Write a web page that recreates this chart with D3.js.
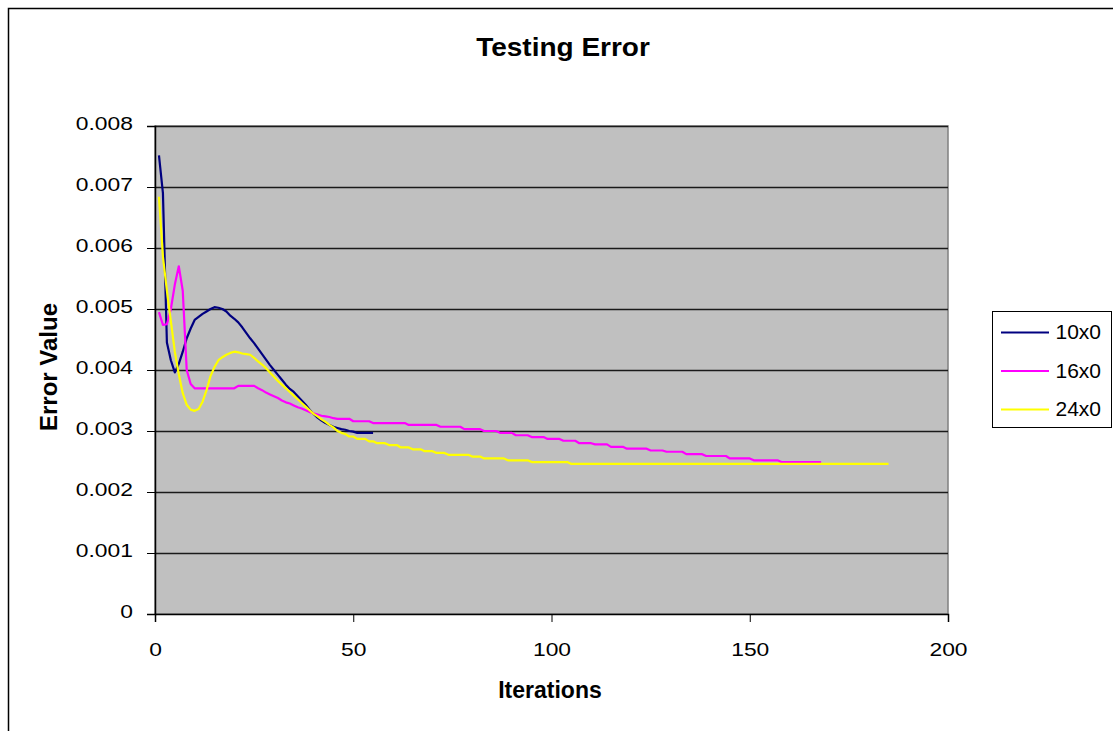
<!DOCTYPE html>
<html>
<head>
<meta charset="utf-8">
<script src="https://cdn.jsdelivr.net/npm/d3@7"></script>
<style>
  html, body { margin: 0; padding: 0; background: #fff; }
  svg { display: block; font-family: "Liberation Sans", Arial, sans-serif; }
</style>
</head>
<body>
<svg id="chart" width="1113" height="731"></svg>
<script>
// Testing error per iteration, one array per network (iteration 1 first)
const seriesNames = ["10x0", "16x0", "24x0"];
const seriesColors = ["#000080", "#FF00FF", "#FFFF00"];

const err10x0 = [
  0.00752, 0.00690, 0.00445, 0.00416, 0.00396, 0.00410, 0.00430, 0.00452, 0.00468, 0.00482,
  0.00487, 0.00492, 0.00496, 0.00500, 0.00503, 0.00502, 0.00500, 0.00496, 0.00489, 0.00484,
  0.00478, 0.00470, 0.00461, 0.00452, 0.00444, 0.00435, 0.00426, 0.00417, 0.00408, 0.00400,
  0.00392, 0.00384, 0.00376, 0.00369, 0.00364, 0.00357, 0.00350, 0.00343, 0.00335, 0.00328,
  0.00322, 0.00317, 0.00313, 0.00310, 0.00307, 0.00305, 0.00303, 0.00302, 0.00300, 0.00299,
  0.00297, 0.00297, 0.00297, 0.00297, 0.00297
];

const err16x0 = [
  0.00495, 0.00474, 0.00475, 0.00500, 0.00540, 0.00570, 0.00530, 0.00400, 0.00377, 0.00370,
  0.00370, 0.00370, 0.00370, 0.00370, 0.00370, 0.00370, 0.00370, 0.00370, 0.00370, 0.00370,
  0.00374, 0.00374, 0.00374, 0.00374, 0.00374, 0.00370, 0.00367, 0.00363, 0.00360, 0.00357,
  0.00354, 0.00350, 0.00347, 0.00345, 0.00342, 0.00339, 0.00337, 0.00334, 0.00331, 0.00329,
  0.00327, 0.00325, 0.00324, 0.00323, 0.00321, 0.00320, 0.00320, 0.00320, 0.00320, 0.00316,
  0.00316, 0.00316, 0.00316, 0.00316, 0.00313, 0.00313, 0.00313, 0.00313, 0.00313, 0.00313,
  0.00313, 0.00313, 0.00313, 0.00310, 0.00310, 0.00310, 0.00310, 0.00310, 0.00310, 0.00310,
  0.00310, 0.00307, 0.00307, 0.00307, 0.00307, 0.00307, 0.00307, 0.00303, 0.00303, 0.00303,
  0.00303, 0.00303, 0.00300, 0.00300, 0.00300, 0.00300, 0.00297, 0.00297, 0.00297, 0.00297,
  0.00293, 0.00293, 0.00293, 0.00293, 0.00290, 0.00290, 0.00290, 0.00290, 0.00287, 0.00287,
  0.00287, 0.00287, 0.00284, 0.00284, 0.00284, 0.00284, 0.00280, 0.00280, 0.00280, 0.00280,
  0.00278, 0.00278, 0.00278, 0.00278, 0.00274, 0.00274, 0.00274, 0.00274, 0.00271, 0.00271,
  0.00271, 0.00271, 0.00271, 0.00271, 0.00268, 0.00268, 0.00268, 0.00268, 0.00266, 0.00266,
  0.00266, 0.00266, 0.00266, 0.00262, 0.00262, 0.00262, 0.00262, 0.00262, 0.00259, 0.00259,
  0.00259, 0.00259, 0.00259, 0.00259, 0.00255, 0.00255, 0.00255, 0.00255, 0.00255, 0.00255,
  0.00252, 0.00252, 0.00252, 0.00252, 0.00252, 0.00252, 0.00252, 0.00249, 0.00249, 0.00249,
  0.00249, 0.00249, 0.00249, 0.00249, 0.00249, 0.00249, 0.00249, 0.00249
];

const err24x0 = [
  0.00684, 0.00586, 0.00530, 0.00480, 0.00430, 0.00393, 0.00362, 0.00343, 0.00335, 0.00333,
  0.00336, 0.00348, 0.00367, 0.00390, 0.00405, 0.00416, 0.00421, 0.00425, 0.00428, 0.00430,
  0.00429, 0.00427, 0.00426, 0.00425, 0.00420, 0.00414, 0.00409, 0.00403, 0.00396, 0.00389,
  0.00382, 0.00376, 0.00370, 0.00364, 0.00358, 0.00352, 0.00346, 0.00340, 0.00334, 0.00328,
  0.00324, 0.00319, 0.00315, 0.00310, 0.00306, 0.00300, 0.00297, 0.00295, 0.00291, 0.00291,
  0.00287, 0.00287, 0.00287, 0.00283, 0.00283, 0.00280, 0.00280, 0.00280, 0.00277, 0.00277,
  0.00277, 0.00273, 0.00273, 0.00273, 0.00270, 0.00270, 0.00270, 0.00267, 0.00267, 0.00267,
  0.00264, 0.00264, 0.00264, 0.00261, 0.00261, 0.00261, 0.00261, 0.00261, 0.00261, 0.00258,
  0.00258, 0.00258, 0.00255, 0.00255, 0.00255, 0.00255, 0.00255, 0.00255, 0.00252, 0.00252,
  0.00252, 0.00252, 0.00252, 0.00252, 0.00249, 0.00249, 0.00249, 0.00249, 0.00249, 0.00249,
  0.00249, 0.00249, 0.00249, 0.00249, 0.00246, 0.00246, 0.00246, 0.00246, 0.00246, 0.00246,
  0.00246, 0.00246, 0.00246, 0.00246, 0.00246, 0.00246, 0.00246, 0.00246, 0.00246, 0.00246,
  0.00246, 0.00246, 0.00246, 0.00246, 0.00246, 0.00246, 0.00246, 0.00246, 0.00246, 0.00246,
  0.00246, 0.00246, 0.00246, 0.00246, 0.00246, 0.00246, 0.00246, 0.00246, 0.00246, 0.00246,
  0.00246, 0.00246, 0.00246, 0.00246, 0.00246, 0.00246, 0.00246, 0.00246, 0.00246, 0.00246,
  0.00246, 0.00246, 0.00246, 0.00246, 0.00246, 0.00246, 0.00246, 0.00246, 0.00246, 0.00246,
  0.00246, 0.00246, 0.00246, 0.00246, 0.00246, 0.00246, 0.00246, 0.00246, 0.00246, 0.00246,
  0.00246, 0.00246, 0.00246, 0.00246, 0.00246, 0.00246, 0.00246, 0.00246, 0.00246, 0.00246,
  0.00246, 0.00246, 0.00246, 0.00246, 0.00246
];

const xTicks = [0, 50, 100, 150, 200];
const yTicks = [0, 0.001, 0.002, 0.003, 0.004, 0.005, 0.006, 0.007, 0.008];
const yTickLabels = ["0", "0.001", "0.002", "0.003", "0.004", "0.005", "0.006", "0.007", "0.008"];

const allSeries = [err10x0, err16x0, err24x0];

const svg = d3.select("#chart");
const plot = { left: 155, top: 126, right: 948, bottom: 614 };
const tickFont = 18;
const tickStretch = 1.27;   // tick labels are drawn a little wide

const x = d3.scaleLinear().domain([0, 200]).range([plot.left, plot.right]);
const y = d3.scaleLinear().domain([0, 0.008]).range([plot.bottom, plot.top]);

// outer chart frame
svg.append("rect")
  .attr("x", 8.5).attr("y", 8.5)
  .attr("width", 1120).attr("height", 740)
  .attr("fill", "#fff").attr("stroke", "#000").attr("stroke-width", 1.5);

// plot background
svg.append("rect")
  .attr("x", plot.left).attr("y", plot.top)
  .attr("width", plot.right - plot.left).attr("height", plot.bottom - plot.top)
  .attr("fill", "#C0C0C0").attr("stroke", "#808080").attr("stroke-width", 1.5);

// horizontal gridlines
svg.append("g")
  .selectAll("line")
  .data(yTicks.filter(d => d > 0))
  .join("line")
  .attr("x1", plot.left).attr("x2", plot.right)
  .attr("y1", d => Math.round(y(d)) + 0.5).attr("y2", d => Math.round(y(d)) + 0.5)
  .attr("stroke", "#1a1a1a").attr("stroke-width", 1.4);

// y axis
const yAxis = d3.axisLeft(y)
  .tickValues(yTicks)
  .tickFormat((d, i) => yTickLabels[i])
  .tickSize(8).tickPadding(14);
const gy = svg.append("g").attr("transform", `translate(${plot.left},0)`).call(yAxis);
gy.select(".domain").attr("stroke", "#000").attr("stroke-width", 1.5);
gy.selectAll(".tick line").attr("stroke", "#000");
gy.selectAll(".tick text")
  .attr("font-size", tickFont).attr("fill", "#000")
  .attr("font-family", "Liberation Sans, Arial, sans-serif")
  .attr("x", -22 / tickStretch)
  .attr("dy", "0.2em")
  .attr("transform", `scale(${tickStretch},1)`);

// x axis
const xAxis = d3.axisBottom(x).tickValues(xTicks).tickSize(8).tickPadding(21);
const gx = svg.append("g").attr("transform", `translate(0,${plot.bottom})`).call(xAxis);
gx.select(".domain").attr("stroke", "#000").attr("stroke-width", 1.5);
gx.selectAll(".tick line").attr("stroke", "#000");
gx.selectAll(".tick text")
  .attr("font-size", tickFont).attr("fill", "#000")
  .attr("font-family", "Liberation Sans, Arial, sans-serif")
  .attr("transform", `scale(${tickStretch},1)`);

// series lines
const line = d3.line()
  .x((d, i) => x(i + 1))
  .y(d => y(d));

svg.append("g")
  .selectAll("path")
  .data(allSeries)
  .join("path")
  .attr("d", d => line(d))
  .attr("fill", "none")
  .attr("stroke", (d, i) => seriesColors[i])
  .attr("stroke-width", 2.2)
  .attr("stroke-linejoin", "round");

// title and axis titles
svg.append("text")
  .attr("transform", "translate(563,56) scale(1.12,1)")
  .attr("text-anchor", "middle")
  .attr("font-size", 25).attr("font-weight", "bold")
  .text("Testing Error");

svg.append("text")
  .attr("x", 550).attr("y", 698)
  .attr("text-anchor", "middle")
  .attr("font-size", 23).attr("font-weight", "bold")
  .text("Iterations");

svg.append("text")
  .attr("transform", `translate(57,367) rotate(-90)`)
  .attr("text-anchor", "middle")
  .attr("font-size", 24).attr("font-weight", "bold")
  .text("Error Value");

// legend
const legend = svg.append("g");
legend.append("rect")
  .attr("x", 992.5).attr("y", 311.5)
  .attr("width", 119).attr("height", 116)
  .attr("fill", "#fff").attr("stroke", "#000").attr("stroke-width", 1);

const legendRows = legend.selectAll("g.row")
  .data(seriesNames)
  .join("g")
  .attr("class", "row")
  .attr("transform", (d, i) => `translate(0,${332.5 + i * 38.5})`);

legendRows.append("line")
  .attr("x1", 1001).attr("x2", 1049)
  .attr("y1", 0).attr("y2", 0)
  .attr("stroke", (d, i) => seriesColors[i])
  .attr("stroke-width", 2);

legendRows.append("text")
  .attr("x", 1055.5).attr("y", 6.5)
  .attr("font-size", 21)
  .text(d => d);
</script>
</body>
</html>
